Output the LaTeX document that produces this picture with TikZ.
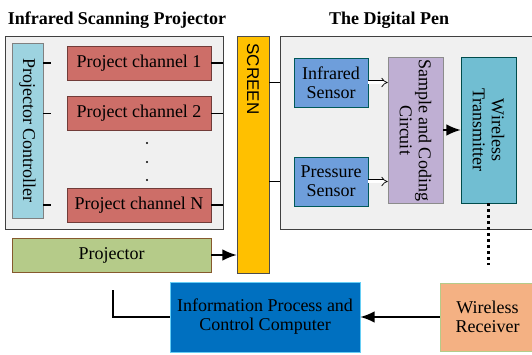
\documentclass[tikz,border=0pt]{standalone}
\usepackage{fontspec}
\setmainfont{Liberation Serif}
\setsansfont{Liberation Sans}
\usepackage{xcolor}
\usetikzlibrary{arrows.meta}

\definecolor{framefill}{HTML}{F0F0F0}
\definecolor{ctrlblue}{HTML}{9DD3E0}
\definecolor{chanred}{HTML}{CD6E68}
\definecolor{projgreen}{HTML}{B5CB89}
\definecolor{screenyellow}{HTML}{FFC000}
\definecolor{sensorblue}{HTML}{6E9EDB}
\definecolor{samplepurple}{HTML}{BFAFD3}
\definecolor{transteal}{HTML}{71BED2}
\definecolor{infoblue}{HTML}{0070C0}
\definecolor{recvorange}{HTML}{F4B183}

\begin{document}
\begin{tikzpicture}[
    x=1pt,
    y=1pt,
    font=\fontsize{18}{19}\selectfont,
    frame/.style={
        rectangle,
        draw=black!75,
        fill=framefill,
        line width=0.8pt
    },
    block/.style={
        rectangle,
        draw=#1!55!black,
        fill=#1,
        line width=0.6pt,
        align=center,
        inner sep=2pt
    },
    vtext/.style={rotate=-90, align=center},
    stub/.style={line width=1.6pt},
    flowarrow/.style={-{Latex[length=5mm,width=4mm]}, line width=1.4pt},
    hollowarrow/.style={double, double distance=2.6pt, line width=0.7pt, -{Implies}}
]

\useasboundingbox (0,0) rectangle (532,-355);

% frames and titles
\node[frame, minimum width=218pt, minimum height=193pt] (irframe) at (114,-132.5) {};
\node[frame, minimum width=265pt, minimum height=193pt] (penframe) at (412.5,-132.5) {};
\node[font=\fontsize{18}{19}\selectfont\bfseries] (irtitle) at (117,-20) {Infrared Scanning Projector};
\node[font=\fontsize{18}{19}\selectfont\bfseries] (pentitle) at (389,-20) {The Digital Pen};

% projector side
\node[block=ctrlblue, draw=black!50, minimum width=31pt, minimum height=175pt] (ctrl) at (27.5,-130.5) {};
\node[vtext] at (ctrl) {Projector Controller};

\node[block=chanred, minimum width=144pt, minimum height=34pt] (ch1) at (139,-63) {Project channel 1};
\node[block=chanred, minimum width=144pt, minimum height=34pt] (ch2) at (139,-113.5) {Project channel 2};
\node[block=chanred, minimum width=144pt, minimum height=34pt] (chN) at (139,-205) {Project channel N};
\foreach \y in {143,162,180}
    \fill (147,-\y) circle (1.1pt);

\foreach \c in {ch1,ch2,chN} {
    \draw[stub] (ctrl.east |- \c.west) -- ++(8,0);
    \draw[stub] (\c.east) -- (\c.east -| irframe.east);
}

\node[block=projgreen, draw=brown!70!black, minimum width=199pt, minimum height=34pt] (proj) at (111.5,-255) {Projector};

\node[block=screenyellow, draw=black!70, minimum width=32pt, minimum height=237pt] (screen) at (253,-154.5) {};
\node[vtext, font=\fontsize{17}{18}\selectfont\sffamily] at (253,-79) {SCREEN};

\draw[flowarrow] (proj.east) -- (proj.east -| screen.west);

% digital pen
\node[block=sensorblue, draw=teal!70!black, minimum width=74pt, minimum height=49pt] (irs) at (331,-82.5) {Infrared\\Sensor};
\node[block=sensorblue, draw=teal!70!black, minimum width=74pt, minimum height=49pt] (prs) at (331,-181.5) {Pressure\\Sensor};
\node[block=samplepurple, draw=black!45, minimum width=55pt, minimum height=146pt] (samp) at (415.5,-130) {};
\node[vtext] at (samp) {Sample and Coding\\Circuit};
\node[block=transteal, draw=teal!60!black, minimum width=55pt, minimum height=146pt] (trans) at (488.5,-130) {};
\node[vtext] at (trans) {Wireless\\Transmitter};

\foreach \s in {irs,prs} {
    \draw[stub] (screen.east |- \s.west) -- (\s.west -| penframe.west);
    \draw[hollowarrow] (\s.east) -- (\s.east -| samp.west);
}
\draw[flowarrow] (samp.east) -- (trans.west);

\coordinate (penend) at (488.5,-265);
\draw[line width=2.2pt, dash pattern=on 3pt off 3pt] (trans.south) -- (penend);

% computer and receiver
\node[block=infoblue, draw=cyan!60, minimum width=190pt, minimum height=70pt] (info) at (265,-317) {Information Process and\\Control Computer};
\node[block=recvorange, draw=projgreen, minimum width=95pt, minimum height=68pt] (recv) at (487.5,-317) {Wireless\\Receiver};

\draw[flowarrow] (recv.west) -- (info.east);
\coordinate (feed) at (113,-290);
\draw[line width=1.4pt] (info.west) -| (feed);

\end{tikzpicture}
\end{document}
